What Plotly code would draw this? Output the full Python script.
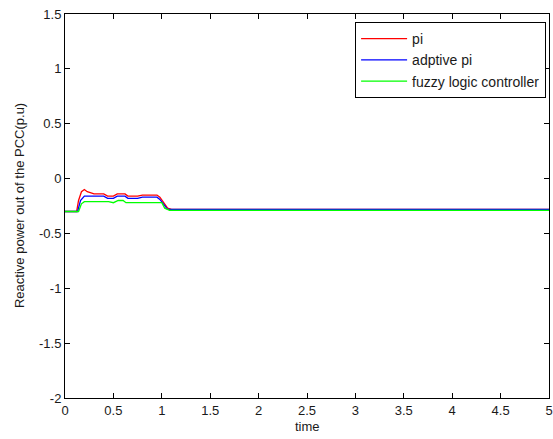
import plotly.graph_objects as go

t_pi = [0, 0.12, 0.14, 0.17, 0.2, 0.23, 0.3, 0.4, 0.44, 0.5, 0.54, 0.62, 0.65, 0.75, 0.8, 0.95, 0.98, 1.02, 1.06, 1.1, 5]
q_pi = [-0.3, -0.3, -0.2, -0.12, -0.1, -0.12, -0.14, -0.14, -0.16, -0.16, -0.14, -0.14, -0.16, -0.16, -0.15, -0.15, -0.17, -0.22, -0.27, -0.28, -0.28]

t_api = [0, 0.13, 0.16, 0.2, 0.3, 0.4, 0.44, 0.5, 0.54, 0.62, 0.65, 0.75, 0.8, 0.95, 0.98, 1.02, 1.06, 1.1, 5]
q_api = [-0.3, -0.3, -0.2, -0.16, -0.16, -0.16, -0.18, -0.18, -0.16, -0.16, -0.18, -0.18, -0.17, -0.17, -0.19, -0.24, -0.28, -0.28, -0.28]

t_flc = [0, 0.14, 0.17, 0.2, 0.45, 0.5, 0.55, 0.6, 0.63, 1.0, 1.03, 1.08, 5]
q_flc = [-0.3, -0.3, -0.23, -0.21, -0.21, -0.22, -0.2, -0.2, -0.22, -0.22, -0.27, -0.29, -0.29]

x_ticks = [0, 0.5, 1, 1.5, 2, 2.5, 3, 3.5, 4, 4.5, 5]
y_ticks = [-2, -1.5, -1, -0.5, 0, 0.5, 1, 1.5]

fig = go.Figure()
fig.add_trace(go.Scatter(x=t_pi, y=q_pi, mode="lines", name="pi", line=dict(color="#ff0000", width=1.3)))
fig.add_trace(go.Scatter(x=t_api, y=q_api, mode="lines", name="adptive pi", line=dict(color="#0000ff", width=1.3)))
fig.add_trace(go.Scatter(x=t_flc, y=q_flc, mode="lines", name="fuzzy logic controller", line=dict(color="#00ff00", width=1.3)))

FONT = "Liberation Sans, Arial"
TXT = "#1a1a1a"
axis_common = dict(showgrid=False, zeroline=False, showline=True, linecolor="black", linewidth=1,
                   mirror="ticks", ticks="inside", ticklen=5, tickcolor="black", automargin=False,
                   ticklabeloverflow="allow",
                   tickfont=dict(family=FONT, size=13, color=TXT))
fig.update_layout(
    width=553, height=439,
    margin=dict(l=65, r=4, t=14, b=41),
    paper_bgcolor="white", plot_bgcolor="white",
    font=dict(family=FONT, size=13, color=TXT),
    xaxis=dict(range=[0, 5], tickvals=x_ticks, ticktext=[str(v) for v in x_ticks], **axis_common),
    yaxis=dict(range=[-2, 1.5], tickvals=y_ticks, ticktext=[str(v) for v in y_ticks], **axis_common),
    legend=dict(x=0.994, y=0.979, xanchor="right", yanchor="top", bordercolor="black", borderwidth=1,
                bgcolor="white", font=dict(family=FONT, size=14, color=TXT), tracegroupgap=0, itemwidth=46),
    showlegend=True,
    annotations=[
        dict(text="time", xref="paper", yref="paper", x=0.5, y=-0.073, xanchor="center", yanchor="middle",
             showarrow=False, font=dict(family=FONT, size=13, color=TXT)),
        dict(text="Reactive power out of the PCC(p.u)", xref="paper", yref="paper", x=-0.095, y=0.5,
             xanchor="center", yanchor="middle", textangle=-90, showarrow=False,
             font=dict(family=FONT, size=13, color=TXT)),
    ],
)
fig.write_html("out.html", config={"displayModeBar": False},
               post_script="document.body.style.margin='0';document.body.style.overflow='hidden';")
